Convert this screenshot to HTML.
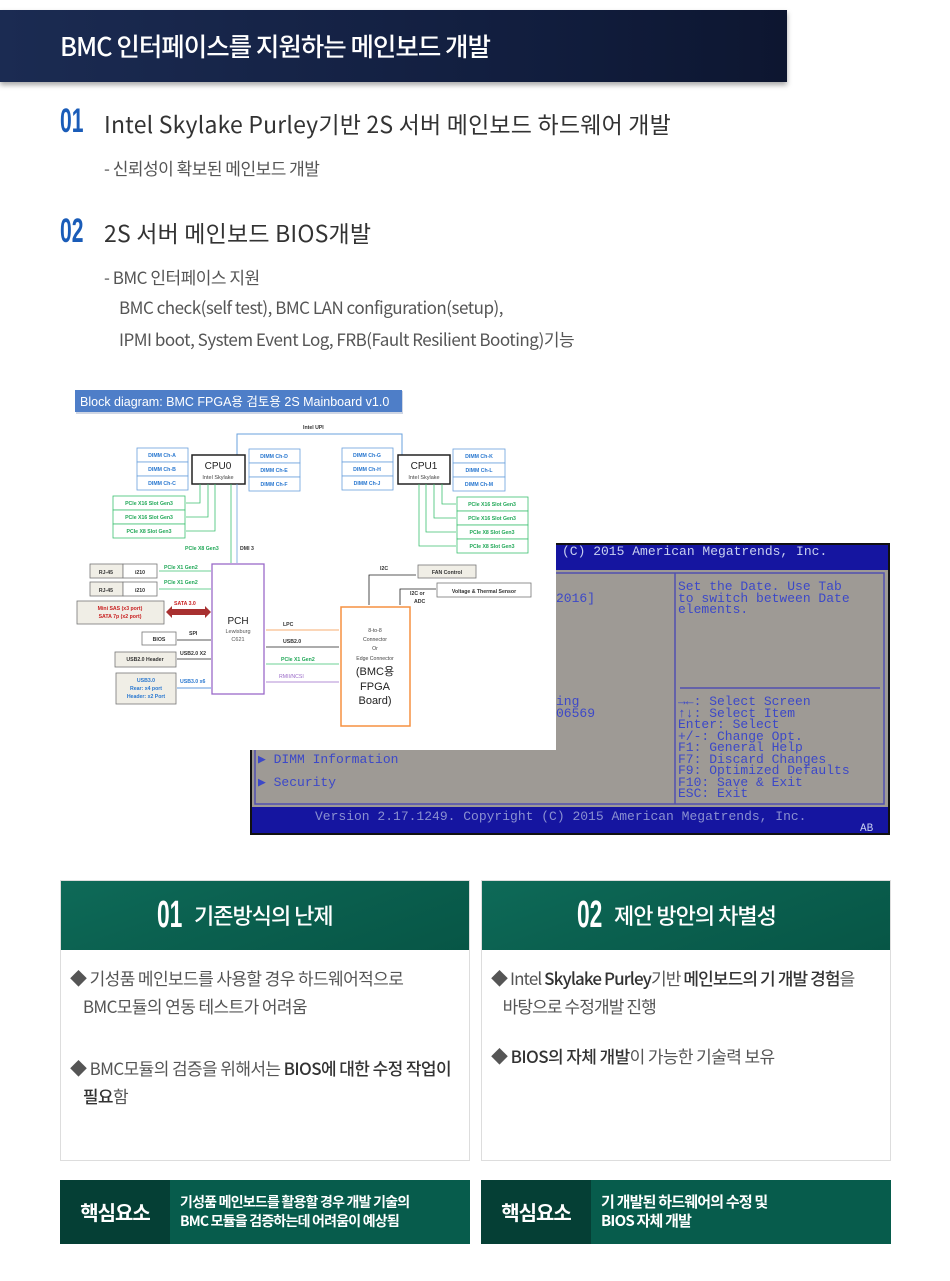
<!DOCTYPE html>
<html><head><meta charset="utf-8"><style>
*{margin:0;padding:0;box-sizing:border-box}
body{width:950px;height:1281px;background:#fff;position:relative;overflow:hidden;font-family:"Liberation Sans","Noto Sans CJK KR",sans-serif;color:#444}
.a{position:absolute;white-space:nowrap}
.hdr{left:0;top:10px;width:787px;height:72px;background:linear-gradient(90deg,#1b2b52,#111d3d 70%,#0d1630);box-shadow:0 3px 5px rgba(0,0,0,.35)}
.num{font-family:"Liberation Sans",sans-serif;font-weight:bold;color:#1a5cb8;font-size:34px;line-height:34px;transform:scaleX(.62);transform-origin:left}
.h2{font-size:23px;color:#333;letter-spacing:.2px;font-family:"Noto Sans CJK KR",sans-serif}
.sub{font-size:17px;color:#555;letter-spacing:-.5px;font-family:"Noto Sans CJK KR",sans-serif}
.card{border:1px solid #ddd;background:#fff}
.ch{background:linear-gradient(160deg,#0e6a58 0%,#0b6150 40%,#075646 100%);color:#fff;font-family:"Noto Sans CJK KR",sans-serif}
.ct{font-size:17px;color:#555;letter-spacing:-.6px;font-family:"Noto Sans CJK KR",sans-serif;line-height:28px}
.ct b{color:#333;font-weight:500}
.bar{background:#075c4c;color:#fff;font-family:"Noto Sans CJK KR",sans-serif}
.bar .k{position:absolute;left:0;top:0;width:110px;height:64px;background:#053f35;font-size:20px;font-weight:bold;line-height:64px;text-align:center;letter-spacing:-1px}
.bar .t{position:absolute;left:120px;top:13px;font-size:14px;font-weight:bold;line-height:19px;letter-spacing:-.8px}
svg text{font-family:"Liberation Sans","Noto Sans CJK KR",sans-serif}
svg text.m{font-family:"Liberation Mono",monospace}
</style></head><body>
<div class="a hdr"></div>
<div class="a" style="left:60px;top:28px;font-size:25.5px;color:#fff;letter-spacing:-1px;font-family:'Noto Sans CJK KR',sans-serif;font-weight:500;line-height:36px">BMC 인터페이스를 지원하는 메인보드 개발</div>

<div class="a num" style="left:60px;top:104px">01</div>
<div class="a h2" style="left:104px;top:106px">Intel Skylake Purley기반 2S 서버 메인보드 하드웨어 개발</div>
<div class="a sub" style="left:104px;top:155px">- 신뢰성이 확보된 메인보드 개발</div>
<div class="a num" style="left:60px;top:214px">02</div>
<div class="a h2" style="left:104px;top:215px">2S 서버 메인보드 BIOS개발</div>
<div class="a sub" style="left:104px;top:264px">- BMC 인터페이스 지원</div>
<div class="a sub" style="left:119px;top:294px">BMC check(self test), BMC LAN configuration(setup),</div>
<div class="a sub" style="left:119px;top:326px">IPMI boot, System Event Log, FRB(Fault Resilient Booting)기능</div>

<svg class="a" style="left:0;top:0" width="950" height="1281" viewBox="0 0 950 1281">
<rect x="250" y="543" width="640" height="292" fill="#111"/>
<rect x="252" y="545" width="636" height="288" fill="#9e9a95"/>
<rect x="252" y="545" width="636" height="25" fill="#1515a0"/>
<rect x="252" y="807" width="636" height="26" fill="#1515a0"/>
<rect x="255" y="573" width="629" height="231" fill="none" stroke="#5050b0" stroke-width="1.5"/>
<line x1="675" y1="573" x2="675" y2="804" stroke="#5050b0" stroke-width="1.5"/>
<line x1="680" y1="688" x2="880" y2="688" stroke="#5050b0" stroke-width="1.5"/>
<g font-size="13" fill="#3c48c8">
<text class="m" x="562" y="555" fill="#c8d0f0">(C) 2015 American Megatrends, Inc.</text>
<text class="m" x="678" y="590">Set the Date. Use Tab</text>
<text class="m" x="678" y="602">to switch between Date</text>
<text class="m" x="678" y="613">elements.</text>
<text class="m" x="556" y="602">2016]</text>
<text class="m" x="556" y="705">ing</text>
<text class="m" x="556" y="717">06569</text>
<text class="m" x="678" y="705">→←: Select Screen</text>
<text class="m" x="678" y="717">↑↓: Select Item</text>
<text class="m" x="678" y="728">Enter: Select</text>
<text class="m" x="678" y="740">+/-: Change Opt.</text>
<text class="m" x="678" y="751">F1: General Help</text>
<text class="m" x="678" y="763">F7: Discard Changes</text>
<text class="m" x="678" y="774">F9: Optimized Defaults</text>
<text class="m" x="678" y="786">F10: Save &amp; Exit</text>
<text class="m" x="678" y="797">ESC: Exit</text>
<text class="m" x="258" y="763">▶ DIMM Information</text>
<text class="m" x="258" y="786">▶ Security</text>
<text class="m" x="315" y="820" fill="#8a90d0">Version 2.17.1249. Copyright (C) 2015 American Megatrends, Inc.</text>
<text class="m" x="860" y="831" fill="#c8d0f0" font-size="11">AB</text>
</g>
<rect x="70" y="385" width="486" height="365" fill="#fff"/>
<rect x="76" y="391" width="327" height="23" fill="#cfd6e4"/>
<rect x="75" y="390" width="327" height="22" fill="#4e7ec8"/>
<text x="80" y="406" font-size="12.5" fill="#fff">Block diagram: BMC FPGA용 검토용 2S Mainboard v1.0</text>
<g font-size="5.2" font-weight="bold">
<text x="303" y="429" fill="#333">Intel UPI</text>
<polyline points="237,455 237,434 402,434 402,455" fill="none" stroke="#6aa0dc" stroke-width="1"/>
<rect x="192" y="455" width="53" height="29" fill="#fff" stroke="#222" stroke-width="1.5"/>
<text x="218" y="469" font-size="10" font-weight="normal" text-anchor="middle" fill="#222">CPU0</text>
<text x="218" y="479" font-size="5.5" font-weight="normal" text-anchor="middle" fill="#444">Intel Skylake</text>
<rect x="398" y="455" width="52" height="29" fill="#fff" stroke="#222" stroke-width="1.5"/>
<text x="424" y="469" font-size="10" font-weight="normal" text-anchor="middle" fill="#222">CPU1</text>
<text x="424" y="479" font-size="5.5" font-weight="normal" text-anchor="middle" fill="#444">Intel Skylake</text>
<g fill="#fff" stroke="#6aa0dc" stroke-width="0.8">
<rect x="137" y="448" width="51" height="14"/><rect x="137" y="462" width="51" height="14"/><rect x="137" y="476" width="51" height="14"/>
<rect x="249" y="449" width="51" height="14"/><rect x="249" y="463" width="51" height="14"/><rect x="249" y="477" width="51" height="14"/>
<rect x="342" y="448" width="51" height="14"/><rect x="342" y="462" width="51" height="14"/><rect x="342" y="476" width="51" height="14"/>
<rect x="453" y="449" width="52" height="14"/><rect x="453" y="463" width="52" height="14"/><rect x="453" y="477" width="52" height="14"/>
</g>
<g fill="#2a78d0" text-anchor="middle">
<text x="162" y="457">DIMM Ch-A</text><text x="162" y="471">DIMM Ch-B</text><text x="162" y="485">DIMM Ch-C</text>
<text x="274" y="458">DIMM Ch-D</text><text x="274" y="472">DIMM Ch-E</text><text x="274" y="486">DIMM Ch-F</text>
<text x="367" y="457">DIMM Ch-G</text><text x="367" y="471">DIMM Ch-H</text><text x="367" y="485">DIMM Ch-J</text>
<text x="479" y="458">DIMM Ch-K</text><text x="479" y="472">DIMM Ch-L</text><text x="479" y="486">DIMM Ch-M</text>
</g>
<g fill="#fff" stroke="#3cc070" stroke-width="0.8">
<rect x="113" y="496" width="72" height="14"/><rect x="113" y="510" width="72" height="14"/><rect x="113" y="524" width="72" height="14"/>
<rect x="457" y="497" width="71" height="14"/><rect x="457" y="511" width="71" height="14"/><rect x="457" y="525" width="71" height="14"/><rect x="457" y="539" width="71" height="14"/>
</g>
<g fill="#22a858" text-anchor="middle">
<text x="149" y="505">PCIe X16 Slot Gen3</text><text x="149" y="519">PCIe X16 Slot Gen3</text><text x="149" y="533">PCIe X8 Slot Gen3</text>
<text x="492" y="506">PCIe X16 Slot Gen3</text><text x="492" y="520">PCIe X16 Slot Gen3</text><text x="492" y="534">PCIe X8 Slot Gen3</text><text x="492" y="548">PCIe X8 Slot Gen3</text>
</g>
<g fill="none" stroke="#3cc070" stroke-width="0.8">
<polyline points="200,484 200,503 186,503"/><polyline points="208,484 208,517 186,517"/><polyline points="215,484 215,531 186,531"/>
<polyline points="442,484 442,504 456,504"/><polyline points="434,484 434,518 456,518"/><polyline points="426,484 426,532 456,532"/><polyline points="419,484 419,546 456,546"/>
<line x1="231" y1="484" x2="231" y2="563"/>
</g>
<line x1="237" y1="484" x2="237" y2="563" stroke="#6aa0dc" stroke-width="0.8"/>
<text x="185" y="550" fill="#22a858">PCIe X8 Gen3</text>
<text x="240" y="550" fill="#333">DMI 3</text>
<rect x="212" y="564" width="52" height="130" fill="#fff" stroke="#9a6ac8" stroke-width="1.3"/>
<text x="238" y="624" font-size="10" font-weight="normal" text-anchor="middle" fill="#222">PCH</text>
<text x="238" y="633" font-size="5.5" font-weight="normal" text-anchor="middle" fill="#555">Lewisburg</text>
<text x="238" y="641" font-size="5.5" font-weight="normal" text-anchor="middle" fill="#555">C621</text>
<g fill="#f0eee6" stroke="#777" stroke-width="0.8">
<rect x="90" y="564" width="33" height="14"/><rect x="123" y="564" width="34" height="14" fill="#fff"/>
<rect x="90" y="582" width="33" height="14"/><rect x="123" y="582" width="34" height="14" fill="#fff"/>
<rect x="77" y="601" width="87" height="23"/>
<rect x="142" y="632" width="34" height="13" fill="#fff"/>
<rect x="115" y="652" width="61" height="15"/>
<rect x="116" y="673" width="60" height="31"/>
</g>
<g fill="#333" text-anchor="middle">
<text x="106" y="574">RJ-45</text><text x="140" y="574">i210</text>
<text x="106" y="592">RJ-45</text><text x="140" y="592">i210</text>
<text x="159" y="641">BIOS</text><text x="145" y="661">USB2.0 Header</text>
</g>
<text x="120" y="610" fill="#c82020" text-anchor="middle">Mini SAS (x3 port)</text>
<text x="120" y="618" fill="#c82020" text-anchor="middle">SATA 7p (x2 port)</text>
<g fill="#2a78d0" text-anchor="middle"><text x="146" y="682">USB3.0</text><text x="146" y="690">Rear: x4 port</text><text x="146" y="698">Header: x2 Port</text></g>
<g stroke-width="0.8" fill="none">
<line x1="159" y1="571" x2="211" y2="571" stroke="#3cc070"/><line x1="159" y1="589" x2="211" y2="589" stroke="#3cc070"/>
<line x1="177" y1="640" x2="211" y2="640" stroke="#222"/><line x1="177" y1="659" x2="211" y2="659" stroke="#222"/>
<line x1="177" y1="688" x2="211" y2="688" stroke="#2a78d0"/>
<line x1="266" y1="630" x2="339" y2="630" stroke="#f59040"/><line x1="266" y1="647" x2="339" y2="647" stroke="#222"/>
<line x1="266" y1="664" x2="339" y2="664" stroke="#3cc070"/><line x1="266" y1="682" x2="339" y2="682" stroke="#9a6ac8"/>
<polyline points="369,605 369,575 416,575" stroke="#222"/><polyline points="400,605 400,589 436,589" stroke="#222"/>
</g>
<polygon points="166,612 172,606 172,609 205,609 205,606 211,612 205,618 205,615 172,615 172,618" fill="#a83030"/>
<text x="174" y="605" fill="#c82020">SATA 3.0</text>
<g fill="#22a858"><text x="164" y="569">PCIe X1 Gen2</text><text x="164" y="584">PCIe X1 Gen2</text><text x="281" y="661">PCIe X1 Gen2</text></g>
<g fill="#333"><text x="189" y="635">SPI</text><text x="180" y="655">USB2.0 X2</text><text x="283" y="626">LPC</text><text x="283" y="643">USB2.0</text><text x="380" y="570">I2C</text><text x="410" y="595">I2C or</text><text x="414" y="603">ADC</text></g>
<text x="180" y="683" fill="#2a78d0">USB3.0 x6</text>
<text x="279" y="678" fill="#9a6ac8" font-weight="normal">RMII/NCSI</text>
<rect x="341" y="607" width="69" height="119" fill="#fff" stroke="#f59040" stroke-width="1.5"/>
<g text-anchor="middle" font-weight="normal" fill="#444"><text x="375" y="632">8-to-8</text><text x="375" y="641">Connector</text><text x="375" y="650">Or</text><text x="375" y="660">Edge Connector</text></g>
<g text-anchor="middle" font-weight="normal" font-size="11" fill="#222"><text x="375" y="675">(BMC용</text><text x="375" y="690">FPGA</text><text x="375" y="704">Board)</text></g>
<rect x="418" y="565" width="58" height="13" fill="#f0eee6" stroke="#777" stroke-width="0.8"/>
<text x="447" y="574" text-anchor="middle" fill="#333">FAN Control</text>
<rect x="437" y="583" width="94" height="14" fill="#fff" stroke="#777" stroke-width="0.8"/>
<text x="484" y="593" text-anchor="middle" fill="#333">Voltage &amp; Thermal Sensor</text>
</g>
</svg>

<div class="a card" style="left:60px;top:880px;width:410px;height:281px"></div>
<div class="a ch" style="left:61px;top:881px;width:408px;height:69px"></div>
<div class="a" style="left:157px;top:896px;color:#fff;font-size:38px;line-height:38px;font-weight:bold;transform:scaleX(.6);transform-origin:left">01</div>
<div class="a" style="left:194px;top:899px;color:#fff;font-size:22px;font-weight:500;font-family:'Noto Sans CJK KR',sans-serif;letter-spacing:-1px">기존방식의 난제</div>
<div class="a ct" style="left:70px;top:964px">◆ 기성품 메인보드를 사용할 경우 하드웨어적으로<br>&nbsp;&nbsp;&nbsp;&nbsp;BMC모듈의 연동 테스트가 어려움</div>
<div class="a ct" style="left:70px;top:1054px">◆ BMC모듈의 검증을 위해서는 <b>BIOS에 대한 수정 작업이</b><br>&nbsp;&nbsp;&nbsp;&nbsp;<b>필요</b>함</div>

<div class="a card" style="left:481px;top:880px;width:410px;height:281px"></div>
<div class="a ch" style="left:482px;top:881px;width:408px;height:69px"></div>
<div class="a" style="left:577px;top:896px;color:#fff;font-size:38px;line-height:38px;font-weight:bold;transform:scaleX(.6);transform-origin:left">02</div>
<div class="a" style="left:614px;top:899px;color:#fff;font-size:22px;font-weight:500;font-family:'Noto Sans CJK KR',sans-serif;letter-spacing:-1px">제안 방안의 차별성</div>
<div class="a ct" style="left:491px;top:964px;letter-spacing:-.9px">◆ Intel <b>Skylake Purley</b>기반 <b>메인보드의 기 개발 경험</b>을<br>&nbsp;&nbsp;&nbsp;&nbsp;바탕으로 수정개발 진행</div>
<div class="a ct" style="left:491px;top:1042px">◆ <b>BIOS의 자체 개발</b>이 가능한 기술력 보유</div>

<div class="a bar" style="left:60px;top:1180px;width:410px;height:64px"><div class="k">핵심요소</div><div class="t">기성품 메인보드를 활용할 경우 개발 기술의<br>BMC 모듈을 검증하는데 어려움이 예상됨</div></div>
<div class="a bar" style="left:481px;top:1180px;width:410px;height:64px"><div class="k">핵심요소</div><div class="t" style="top:12px;font-size:15px">기 개발된 하드웨어의 수정 및<br>BIOS 자체 개발</div></div>
</body></html>
